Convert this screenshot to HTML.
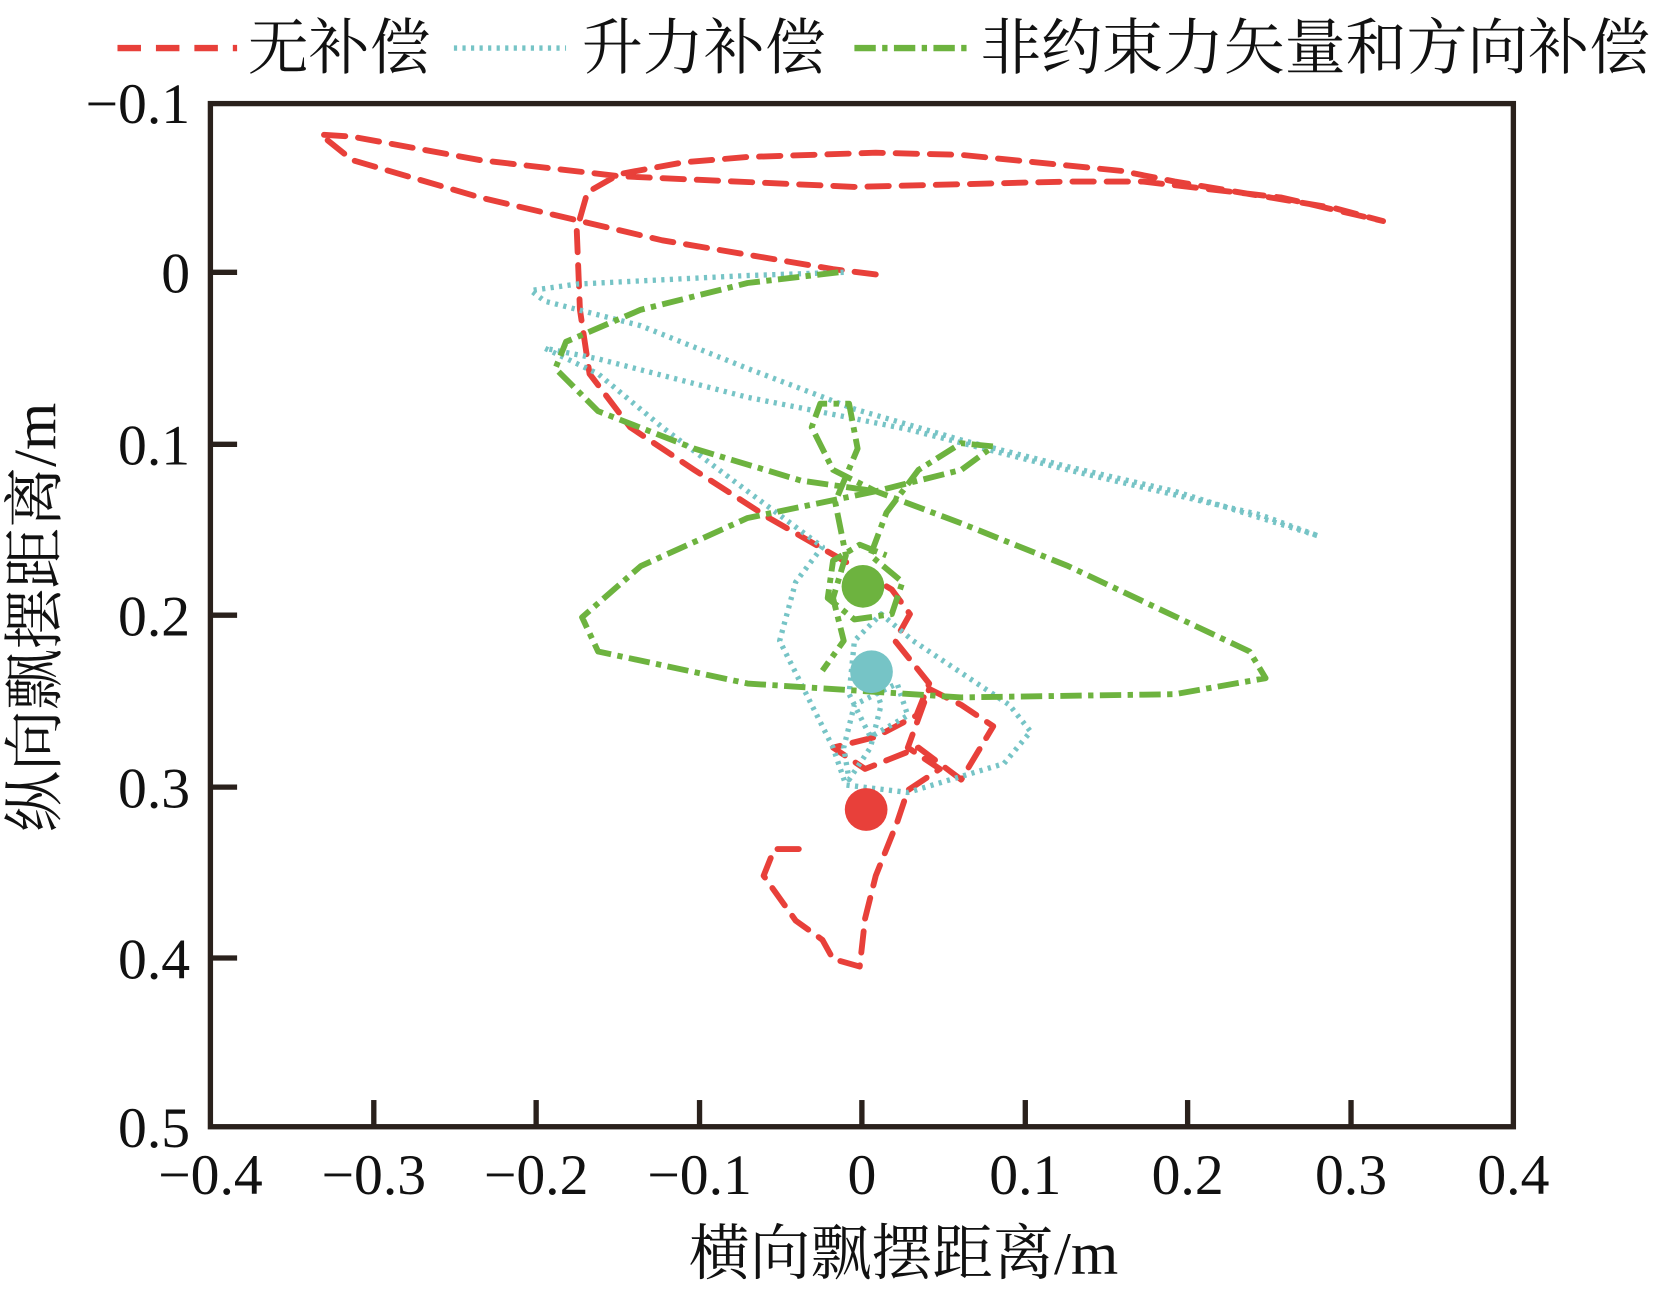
<!DOCTYPE html>
<html><head><meta charset="utf-8"><style>html,body{margin:0;padding:0;background:#fff}svg{display:block}</style></head>
<body>
<svg width="1674" height="1299" viewBox="0 0 1567.4 1216.3" preserveAspectRatio="none" xmlns="http://www.w3.org/2000/svg">
<g font-family="Liberation Serif, 'Noto Serif CJK SC', serif" fill="#111">
<line x1="110" y1="45" x2="222" y2="45" stroke="#e8403a" stroke-width="6" stroke-dasharray="22,14"/>
<text x="232" y="64" font-size="57">无补偿</text>
<line x1="425" y1="45" x2="530" y2="45" stroke="#76c4c6" stroke-width="5" stroke-dasharray="3,5"/>
<text x="545" y="64" font-size="57">升力补偿</text>
<line x1="800" y1="45" x2="910" y2="45" stroke="#6db33f" stroke-width="6" stroke-dasharray="20,6,5,6"/>
<text x="918" y="64" font-size="57">非约束力矢量和方向补偿</text>
<g font-size="54" text-anchor="end">
<text x="178" y="115">−0.1</text>
<text x="178" y="274">0</text>
<text x="178" y="435">0.1</text>
<text x="178" y="595">0.2</text>
<text x="178" y="756">0.3</text>
<text x="178" y="916">0.4</text>
<text x="178" y="1074">0.5</text>
</g>
<g font-size="54" text-anchor="middle">
<text x="197" y="1118">−0.4</text>
<text x="350" y="1118">−0.3</text>
<text x="502" y="1118">−0.2</text>
<text x="655" y="1118">−0.1</text>
<text x="807" y="1118">0</text>
<text x="960" y="1118">0.1</text>
<text x="1112" y="1118">0.2</text>
<text x="1265" y="1118">0.3</text>
<text x="1417" y="1118">0.4</text>
</g>
<text x="846" y="1193" font-size="57" text-anchor="middle">横向飘摆距离/m</text>
<text transform="translate(52,578) rotate(-90)" font-size="57" text-anchor="middle">纵向飘摆距离/m</text>
</g>
<rect x="197" y="97" width="1220" height="958" fill="none" stroke="#2a211c" stroke-width="5"/>
<g stroke="#2a211c" stroke-width="5">
<line x1="197" y1="255" x2="222" y2="255"/><line x1="197" y1="416" x2="222" y2="416"/>
<line x1="197" y1="576" x2="222" y2="576"/><line x1="197" y1="737" x2="222" y2="737"/>
<line x1="197" y1="897" x2="222" y2="897"/>
<line x1="350" y1="1055" x2="350" y2="1030"/><line x1="502" y1="1055" x2="502" y2="1030"/>
<line x1="655" y1="1055" x2="655" y2="1030"/><line x1="807" y1="1055" x2="807" y2="1030"/>
<line x1="960" y1="1055" x2="960" y2="1030"/><line x1="1112" y1="1055" x2="1112" y2="1030"/>
<line x1="1265" y1="1055" x2="1265" y2="1030"/>
</g>
<path fill="none" stroke="#e8403a" stroke-width="5.5" stroke-dasharray="20,12" stroke-linejoin="round" stroke-linecap="round"
d="M820,257 L780,252 L620,225 L450,185 L330,150 L300,126 L330,128 L450,150 L580,165 L800,175 L1000,170 L1070,170 L1200,185 L1295,207 L1250,195 L1100,170 L1050,160 L900,145 L820,143 L700,147 L640,152 L580,163 L550,180 L540,215 L543,290 L552,350 L590,400 L650,440 L720,485 L790,525 L835,552 L852,575 L838,600 L870,640 L858,670 L820,690 L780,700 L810,720 L860,700 L900,730 L930,680 L900,660 L870,645 L850,700 L880,720 L850,740 L840,770 L820,820 L810,860 L805,905 L780,898 L770,880 L745,862 L715,820 L725,795 L752,795"/>
<path fill="none" stroke="#76c4c6" stroke-width="5" stroke-dasharray="3,5" stroke-linejoin="round"
d="M790,255 L700,258 L620,262 L540,266 L497,272 L510,282 L600,305 L700,345 L800,383 L900,412 L1000,437 L1100,460 L1235,502 L1180,482 L1000,440 L850,402 L700,372 L560,336 L510,326 L560,350 L620,400 L700,460 L770,512 L745,545 L730,600 L755,650 L780,700 L792,735 L850,742 L940,715 L965,685 L945,660 L900,630 L855,600 L825,575 L800,600 L795,650 L815,690 L850,670 L840,640 L800,660 L790,700 L795,730 L815,700 L825,660 L815,632"/>
<path fill="none" stroke="#6db33f" stroke-width="5.5" stroke-dasharray="20,6,5,6" stroke-linejoin="round"
d="M785,255 L700,265 L600,290 L530,320 L520,345 L560,385 L650,420 L750,450 L820,460 L900,440 L930,418 L900,415 L860,440 L830,480 L815,520 L845,545 L835,575 L800,580 L775,560 L780,525 L805,510 L830,520 M820,460 L700,485 L600,530 L545,578 L560,610 L700,640 L900,653 L1100,650 L1185,635 L1170,610 L1000,530 L900,490 L820,460 L780,440 L760,400 L768,378 L795,378 L803,420 L782,470 L792,520 L780,560 L790,600 L770,628"/>
<circle cx="808" cy="549" r="20" fill="#6db33f"/>
<circle cx="816" cy="629" r="20" fill="#76c4c6"/>
<circle cx="811" cy="758" r="20" fill="#e8403a"/>
</svg>
</body></html>
